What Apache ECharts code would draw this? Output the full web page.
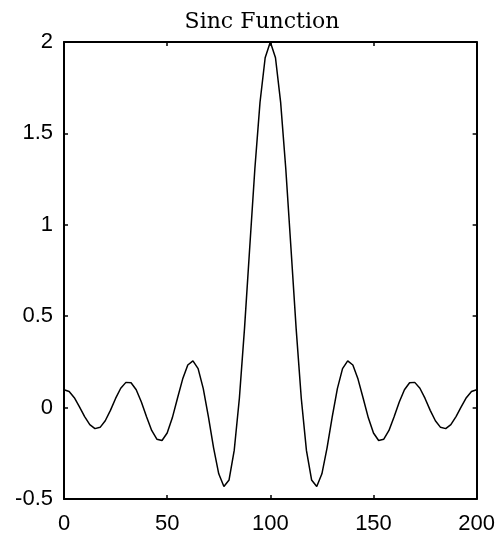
<!DOCTYPE html>
<html>
<head>
<meta charset="utf-8">
<script src="https://cdn.jsdelivr.net/npm/echarts@6/dist/echarts.min.js"></script>
<style>html,body{margin:0;padding:0;background:#fff;}#c{width:498px;height:536px;}</style>
</head>
<body>
<div id="c"></div>
<script>
const titleText = 'Sinc Function';
const xTicks = [0, 50, 100, 150, 200];
const yTicks = [-0.5, 0, 0.5, 1, 1.5, 2];
const xs = [0,2.5,5,7.5,10,12.5,15,17.5,20,22.5,25,27.5,30,32.5,35,37.5,40,42.5,45,47.5,50,52.5,55,57.5,60,62.5,65,67.5,70,72.5,75,77.5,80,82.5,85,87.5,90,92.5,95,97.5,100,102.5,105,107.5,110,112.5,115,117.5,120,122.5,125,127.5,130,132.5,135,137.5,140,142.5,145,147.5,150,152.5,155,157.5,160,162.5,165,167.5,170,172.5,175,177.5,180,182.5,185,187.5,190,192.5,195,197.5,200];
const ys = [0.098,0.088,0.054,0.004,-0.049,-0.093,-0.115,-0.108,-0.072,-0.015,0.050,0.106,0.138,0.136,0.098,0.031,-0.050,-0.125,-0.173,-0.180,-0.139,-0.056,0.051,0.156,0.233,0.256,0.213,0.104,-0.051,-0.220,-0.362,-0.432,-0.396,-0.234,0.051,0.435,0.873,1.305,1.670,1.914,2.000,1.914,1.670,1.305,0.873,0.435,0.051,-0.234,-0.396,-0.432,-0.362,-0.220,-0.051,0.104,0.213,0.256,0.233,0.156,0.051,-0.056,-0.139,-0.180,-0.173,-0.125,-0.050,0.031,0.098,0.136,0.138,0.106,0.050,-0.015,-0.072,-0.108,-0.115,-0.093,-0.049,0.004,0.054,0.088,0.098];

const chart = echarts.init(document.getElementById('c'), null, {renderer: 'canvas'});
const lineAxis = {onZero: false, lineStyle: {color: '#000', width: 2}};
const tickIn = {show: true, inside: true, length: 4, lineStyle: {color: '#000', width: 1.5}};
const labelFont = {color: '#000', fontFamily: '"Liberation Sans", Arial, sans-serif', fontSize: 22};
chart.setOption({
  animation: false,
  backgroundColor: '#fff',
  grid: {left: 64, right: 21, top: 42, bottom: 37, containLabel: false},
  graphic: [{
    type: 'text', x: 262, y: 22,
    style: {text: titleText, textAlign: 'center', textVerticalAlign: 'middle',
      font: '22px "DejaVu Serif", serif', fill: '#000'}
  }],
  xAxis: [{
    type: 'value', min: xTicks[0], max: xTicks[xTicks.length - 1], interval: 50,
    position: 'bottom', axisLine: lineAxis, axisTick: tickIn,
    axisLabel: Object.assign({margin: 14}, labelFont), splitLine: {show: false}
  }, {
    type: 'value', min: xTicks[0], max: xTicks[xTicks.length - 1], interval: 50,
    position: 'top', axisLine: lineAxis, axisTick: tickIn,
    axisLabel: {show: false}, splitLine: {show: false}
  }],
  yAxis: [{
    type: 'value', min: yTicks[0], max: yTicks[yTicks.length - 1], interval: 0.5,
    position: 'left', axisLine: lineAxis, axisTick: tickIn,
    axisLabel: Object.assign({margin: 11}, labelFont), splitLine: {show: false}
  }, {
    type: 'value', min: yTicks[0], max: yTicks[yTicks.length - 1], interval: 0.5,
    position: 'right', axisLine: lineAxis, axisTick: tickIn,
    axisLabel: {show: false}, splitLine: {show: false}
  }],
  series: [{
    type: 'line', xAxisIndex: 0, yAxisIndex: 0,
    data: xs.map((x, i) => [x, ys[i]]),
    showSymbol: false, smooth: false,
    lineStyle: {color: '#000', width: 1.5}
  }]
});
</script>
</body>
</html>
